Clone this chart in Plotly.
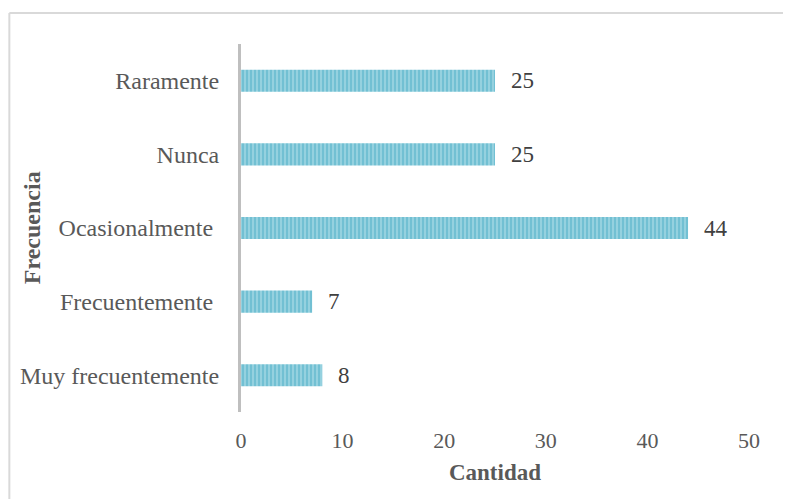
import plotly.graph_objects as go

categories = ["Muy frecuentemente", "Frecuentemente ", "Ocasionalmente ", "Nunca", "Raramente"]
values = [8, 7, 44, 25, 25]
x_ticks = [0, 10, 20, 30, 40, 50]

FONT = "Liberation Serif"

fig = go.Figure()
fig.add_trace(go.Bar(
    x=values, y=categories, orientation="h",
    marker=dict(
        color="#a3d8e4",
        line=dict(width=0),
        pattern=dict(shape="|", size=4, solidity=0.65, fgcolor="#42a8c2", bgcolor="#a3d8e4"),
    ),
    hoverinfo="skip",
))

for v, c in zip(values, categories):
    fig.add_annotation(x=v, y=c, text=str(v), showarrow=False, xanchor="left",
                       xshift=14, font=dict(family=FONT, size=23, color="#404040"))

fig.add_annotation(xref="paper", yref="paper", x=-0.411, y=0.5, text="<b>Frecuencia</b>",
                   textangle=-90, showarrow=False, xanchor="center", yanchor="middle",
                   font=dict(family=FONT, size=24, color="#595959"))

fig.add_shape(type="line", xref="paper", yref="paper", x0=-0.456, x1=1.2, y0=1.084, y1=1.084,
              line=dict(color="#d9d9d9", width=2))
fig.add_shape(type="line", xref="paper", yref="paper", x0=-0.456, x1=-0.456, y0=1.084, y1=-0.3,
              line=dict(color="#d9d9d9", width=2))

fig.update_layout(
    width=791, height=499,
    margin=dict(l=229, r=50, t=36, b=95),
    paper_bgcolor="white", plot_bgcolor="white",
    bargap=0.7, showlegend=False,
    font=dict(family=FONT, size=22, color="#595959"),
    xaxis=dict(range=[0, 50], tickvals=x_ticks, showgrid=False, zeroline=False,
               showline=False, ticks="", ticklabelstandoff=13,
               tickfont=dict(family=FONT, size=22, color="#595959"),
               title=dict(text="<b>Cantidad</b>", standoff=11,
                          font=dict(family=FONT, size=23, color="#595959"))),
    yaxis=dict(showgrid=False, zeroline=False, showline=True, linecolor="#bfbfbf", linewidth=3,
               ticks="", ticklabelstandoff=14,
               tickfont=dict(family=FONT, size=24, color="#595959")),
)

fig.write_html("out.html")
